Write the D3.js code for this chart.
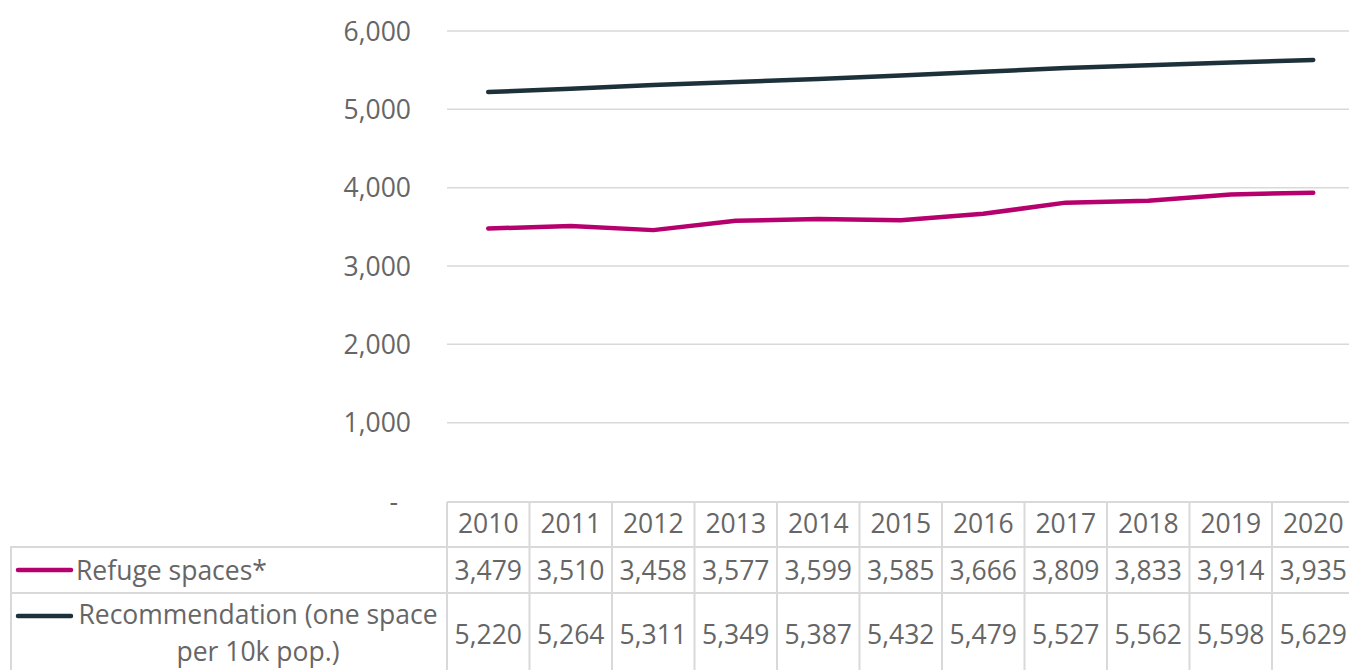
<!DOCTYPE html>
<html>
<head>
<meta charset="utf-8">
<script src="https://cdn.jsdelivr.net/npm/d3@7"></script>
<style>
  body { margin: 0; background: #fff; }
  text { font-family: "Open Sans", sans-serif; fill: #666; }
</style>
</head>
<body>
<div id="chart"></div>
<script>
// data
var years = ["2010","2011","2012","2013","2014","2015","2016","2017","2018","2019","2020"];
var refuge = [3479, 3510, 3458, 3577, 3599, 3585, 3666, 3809, 3833, 3914, 3935];
var recommendation = [5220, 5264, 5311, 5349, 5387, 5432, 5479, 5527, 5562, 5598, 5629];
var yTicks = [0, 1000, 2000, 3000, 4000, 5000, 6000];
var seriesNames = ["Refuge spaces*", "Recommendation (one space|per 10k pop.)"];
var colors = ["#B5006E", "#1C313A"];

var W = 1349, H = 670;
var plotLeft = 447, colW = 82.5;
var fs = "26.5px";

var svg = d3.select("#chart")
    .append("svg")
    .attr("width", W)
    .attr("height", H);

// scales
var x = d3.scaleBand()
    .domain(years)
    .range([plotLeft, plotLeft + colW * years.length]);

var y = d3.scaleLinear()
    .domain([0, 6000])
    .range([501, 31]);

// gridlines
svg.append("g")
    .selectAll("line")
    .data(yTicks.filter(function (d) { return d > 0; }))
    .enter()
    .append("line")
    .attr("x1", plotLeft)
    .attr("x2", W)
    .attr("y1", function (d) { return y(d); })
    .attr("y2", function (d) { return y(d); })
    .style("stroke", "#d9d9d9")
    .style("stroke-width", 1.5);

// y labels
svg.append("g")
    .selectAll("text")
    .data(yTicks)
    .enter()
    .append("text")
    .attr("x", function (d) { return d === 0 ? 398 : 411; })
    .attr("y", function (d) { return y(d) + 9.5; })
    .attr("text-anchor", "end")
    .style("font-size", fs)
    .text(function (d) { return d === 0 ? "-" : d3.format(",")(d); });

// lines
var line = d3.line()
    .x(function (d, i) { return x(years[i]) + x.bandwidth() / 2; })
    .y(function (d) { return y(d); });

[refuge, recommendation].forEach(function (s, i) {
    svg.append("path")
        .datum(s)
        .attr("d", line)
        .style("fill", "none")
        .style("stroke", colors[i])
        .style("stroke-width", 4.5)
        .style("stroke-linecap", "round")
        .style("stroke-linejoin", "round");
});

// data table
var grid = svg.append("g").style("stroke", "#d9d9d9").style("stroke-width", 2);
// horizontal borders
grid.append("line").attr("x1", plotLeft).attr("x2", W).attr("y1", 502).attr("y2", 502);
grid.append("line").attr("x1", 10).attr("x2", W).attr("y1", 547).attr("y2", 547);
grid.append("line").attr("x1", 10).attr("x2", W).attr("y1", 593).attr("y2", 593);
// vertical borders
grid.append("line").attr("x1", 11).attr("x2", 11).attr("y1", 547).attr("y2", H);
years.forEach(function (yr) {
    grid.append("line")
        .attr("x1", x(yr)).attr("x2", x(yr))
        .attr("y1", 502).attr("y2", H);
});

// header row
svg.append("g")
    .selectAll("text")
    .data(years)
    .enter()
    .append("text")
    .attr("x", function (d) { return x(d) + x.bandwidth() / 2; })
    .attr("y", 533)
    .attr("text-anchor", "middle")
    .style("font-size", fs)
    .text(function (d) { return d; });

// value rows
var rowY = [580, 644];
[refuge, recommendation].forEach(function (s, i) {
    svg.append("g")
        .selectAll("text")
        .data(s)
        .enter()
        .append("text")
        .attr("x", function (d, j) { return x(years[j]) + x.bandwidth() / 2; })
        .attr("y", rowY[i])
        .attr("text-anchor", "middle")
        .style("font-size", fs)
        .text(function (d) { return d3.format(",")(d); });
});

// legend keys in table
svg.append("line")
    .attr("x1", 18).attr("x2", 71).attr("y1", 570).attr("y2", 570)
    .style("stroke", colors[0]).style("stroke-width", 4.5).style("stroke-linecap", "round");
svg.append("text")
    .attr("x", 76).attr("y", 580)
    .style("font-size", fs)
    .text(seriesNames[0]);

svg.append("line")
    .attr("x1", 18).attr("x2", 71).attr("y1", 616).attr("y2", 616)
    .style("stroke", colors[1]).style("stroke-width", 4.5).style("stroke-linecap", "round");
var parts = seriesNames[1].split("|");
svg.append("text")
    .attr("x", 258).attr("y", 624)
    .attr("text-anchor", "middle")
    .style("font-size", fs)
    .text(parts[0]);
svg.append("text")
    .attr("x", 258).attr("y", 661)
    .attr("text-anchor", "middle")
    .style("font-size", fs)
    .text(parts[1]);
</script>
</body>
</html>
